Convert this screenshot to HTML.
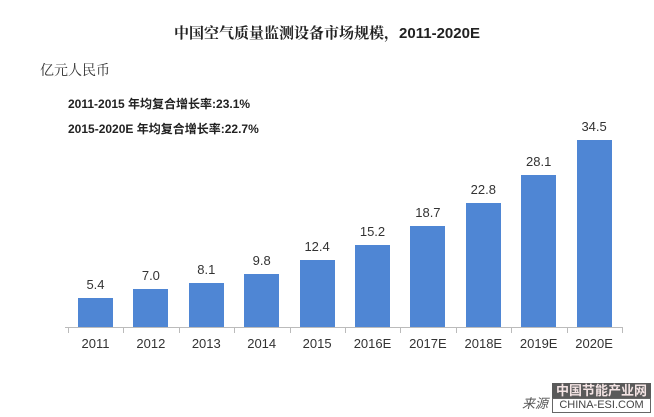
<!DOCTYPE html>
<html><head><meta charset="utf-8"><style>
body{margin:0;width:654px;height:417px;background:#fff;position:relative;overflow:hidden;font-family:"Liberation Sans","Noto Sans CJK SC",sans-serif;}
.a{position:absolute;}
.bar{position:absolute;background:#4f86d4;width:35px;}
.v{position:absolute;font-size:13px;color:#333;width:60px;text-align:center;}
.x{position:absolute;top:336px;font-size:13px;color:#333;width:60px;text-align:center;}
</style></head><body>
<div class="a" style="left:0;width:654px;top:22px;text-align:center;font-size:15px;font-weight:bold;color:#222;font-family:'Liberation Sans','Noto Serif CJK SC',serif;">中国空气质量监测设备市场规模，2011-2020E</div>
<div class="a" style="left:40px;top:60px;font-size:14px;color:#333;font-family:'Noto Serif CJK SC',serif;">亿元人民币</div>
<div class="a" style="left:68px;top:95px;font-size:12px;font-weight:bold;color:#222;">2011-2015 年均复合增长率:23.1%</div>
<div class="a" style="left:68px;top:120px;font-size:12px;font-weight:bold;color:#222;">2015-2020E 年均复合增长率:22.7%</div>
<div class="a" style="left:65px;top:327px;width:557px;height:1px;background:#bbb;"></div>
<div id="c"></div>
<div class="a" style="left:552px;top:383px;width:99px;height:15px;background:#5a5a5a;color:#f4e4e4;font-size:13px;font-weight:bold;text-align:center;line-height:15px;">中国节能产业网</div>
<div class="a" style="left:552px;top:398px;width:97px;height:13px;border:1px solid #666;background:#fff;color:#444;font-size:11px;text-align:center;line-height:13px;">CHINA-ESI.COM</div>
<div class="a" style="left:522px;top:393px;font-size:13px;color:#555;font-style:italic;">来源</div>
<script>
var d=[["2011",5.4],["2012",7.0],["2013",8.1],["2014",9.8],["2015",12.4],["2016E",15.2],["2017E",18.7],["2018E",22.8],["2019E",28.1],["2020E",34.5]];
var h="";
d.forEach(function(e,i){var l=78+i*55.4,hh=e[1]*5.42,t=327-hh;
h+='<div class="bar" style="left:'+l+'px;top:'+t+'px;height:'+hh+'px"></div>';
h+='<div class="v" style="left:'+(l-12.5)+'px;top:'+(t-21)+'px">'+e[1].toFixed(1)+'</div>';
h+='<div class="x" style="left:'+(l-12.5)+'px">'+e[0]+'</div>';
h+='<div class="a" style="left:'+(l-10)+'px;top:327px;width:1px;height:6px;background:#bbb"></div>';});
h+='<div class="a" style="left:622px;top:327px;width:1px;height:6px;background:#bbb"></div>';
document.getElementById("c").innerHTML=h;
</script>
</body></html>
